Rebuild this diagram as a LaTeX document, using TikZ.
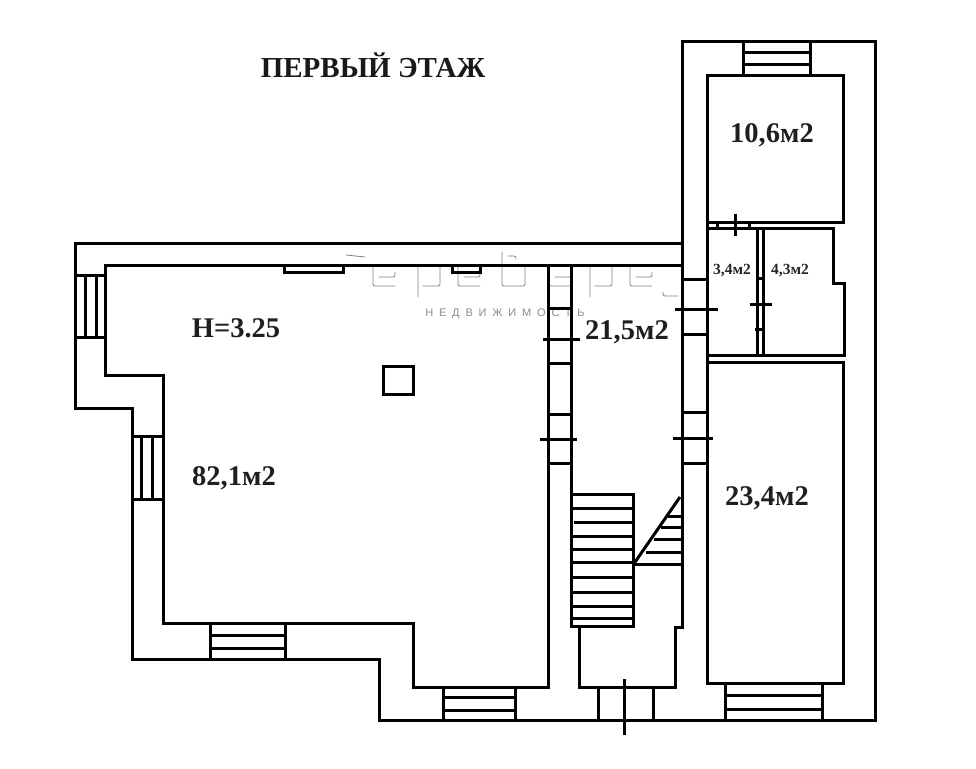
\documentclass[tikz,border=0pt]{standalone}
\usepackage{fontspec}
\setmainfont{Liberation Serif}
\newfontfamily\wmfont[LetterSpace=53]{Liberation Sans}
\tikzset{
  wall/.style={draw=black,line width=3pt,line join=miter,line cap=butt},
  thin wall/.style={draw=black,line width=3pt,line cap=butt},
  tick/.style={draw=black,line width=3pt},
  area/.style={font=\bfseries\fontsize{28.5}{28.5}\selectfont,text=black!88,inner sep=0pt},
  small area/.style={font=\bfseries\fontsize{15.5}{15.5}\selectfont,text=black!85,inner sep=0pt},
  logo/.style={draw=black!50,line width=0.8pt,line cap=round,rounded corners=2pt}
}
\newcommand{\logoe}[1]{\draw[logo] (#1+20,265)--(#1,265)--(#1,286)--(#1+22,286) (#1+6,277)--(#1+22,277)--(#1+22,272);}
\newcommand{\logop}[1]{\draw[logo] (#1,297)--(#1,265)--(#1+22,265)--(#1+22,286)--(#1+5,286);}
\begin{document}
\begin{tikzpicture}[x=1pt,y=-1pt]
\useasboundingbox[fill=white] (0,0) rectangle (976,768);
% watermark
\logoe{373}\logop{418}\logoe{458}
\draw[logo] (502,252)--(502,286)--(525,286)--(525,265)--(508,265) (508,256)--(516,256)--(516,259);
\logoe{549}\logop{590}\logoe{630}
\draw[logo] (346,255)--(365,257);
\draw[logo] (663,292)--(663,296)--(678,296);
\node[font=\wmfont\fontsize{11}{11}\selectfont,text=black!45,inner sep=0pt] (wmtext) at (505,314) {НЕДВИЖИМОСТЬ};
% outer wall
\draw[wall] (682,265)--(682,42)--(875,42)--(875,720)--(379,720)--(379,659)--(132,659)--(132,408)--(75,408)--(75,243)--(682,243);
% main room
\draw[wall] (682,265)--(105,265)--(105,375)--(163,375)--(163,623)--(413,623)--(413,687)--(548,687)--(548,265);
% corridor
\draw[wall] (571,265)--(571,626)--(579,626)--(579,687)--(675,687)--(675,627)--(682,627)--(682,265);
% right rooms
\draw[wall] (707,75) rectangle (843,222);
\draw[wall] (707,222)--(707,683)--(843,683)--(843,362)--(707,362);
\draw[wall] (707,228)--(833,228)--(833,283)--(844,283)--(844,355)--(707,355);
\draw[thin wall] (757,228)--(757,355) (763,228)--(763,355);
% door ticks, right rooms
\draw[tick] (717,222)--(717,228) (749,222)--(749,228) (735,214)--(735,236);
\draw[tick] (757,278)--(763,278) (750,304)--(772,304) (755,329)--(763,329);
% double wall ticks
\draw[tick] (682,279)--(707,279) (675,309)--(718,309) (682,334)--(707,334);
\draw[tick] (682,412)--(707,412) (673,438)--(713,438) (682,463)--(707,463);
\draw[tick] (548,308)--(571,308) (543,339)--(580,339) (548,363)--(571,363);
\draw[tick] (548,414)--(571,414) (540,439)--(577,439) (548,463)--(571,463);
% top windows of main room
\draw[thin wall] (284,265) rectangle (343,272);
\draw[thin wall] (452,265) rectangle (480,272);
% column
\draw[wall] (383,366) rectangle (413,394);
% left windows
\draw[thin wall] (75,275)--(105,275) (75,337)--(105,337) (85,275)--(85,337) (96,275)--(96,337);
\draw[thin wall] (132,436)--(163,436) (132,499)--(163,499) (141,436)--(141,499) (152,436)--(152,499);
% bottom windows
\draw[thin wall] (210,623)--(210,659) (285,623)--(285,659) (210,635)--(285,635) (210,648)--(285,648);
\draw[thin wall] (443,687)--(443,719) (515,687)--(515,719) (443,697)--(515,697) (443,710)--(515,710);
\draw[thin wall] (725,683)--(725,720) (822,683)--(822,720) (725,695)--(822,695) (725,709)--(822,709);
% top window
\draw[thin wall] (743,42)--(743,75) (810,42)--(810,75) (743,53)--(810,53) (743,64)--(810,64);
% entrance
\draw[thin wall] (598,687)--(598,719) (653,687)--(653,719) (624,679)--(624,735);
% stairs
\draw[wall] (633,565)--(633,494)--(571,494) (633,565)--(633,626)--(571,626);
\draw[thin wall] (571,508)--(633,508) (574,522)--(633,522) (571,536)--(633,536) (571,549)--(633,549)
  (571,562)--(633,562) (571,577)--(633,577) (571,592)--(633,592) (571,606)--(633,606) (571,618)--(633,618);
\draw[wall] (633,565)--(680,497);
\draw[thin wall] (668,516)--(682,516) (661,527)--(682,527) (654,539)--(682,539) (646,552)--(682,552) (633,564)--(682,564);
% labels
\node[font=\bfseries\fontsize{29}{29}\selectfont,text=black!90,inner sep=0pt] (title) at (373,65) {ПЕРВЫЙ ЭТАЖ};
\node[area] (a1) at (772,135) {10,6м2};
\node[area] (a2) at (236,328) {H=3.25};
\node[area] (a3) at (234,478) {82,1м2};
\node[area] (a4) at (627,332) {21,5м2};
\node[area] (a5) at (767,498) {23,4м2};
\node[small area] (a6) at (732,271) {3,4м2};
\node[small area] (a7) at (790,271) {4,3м2};
\end{tikzpicture}
\end{document}
